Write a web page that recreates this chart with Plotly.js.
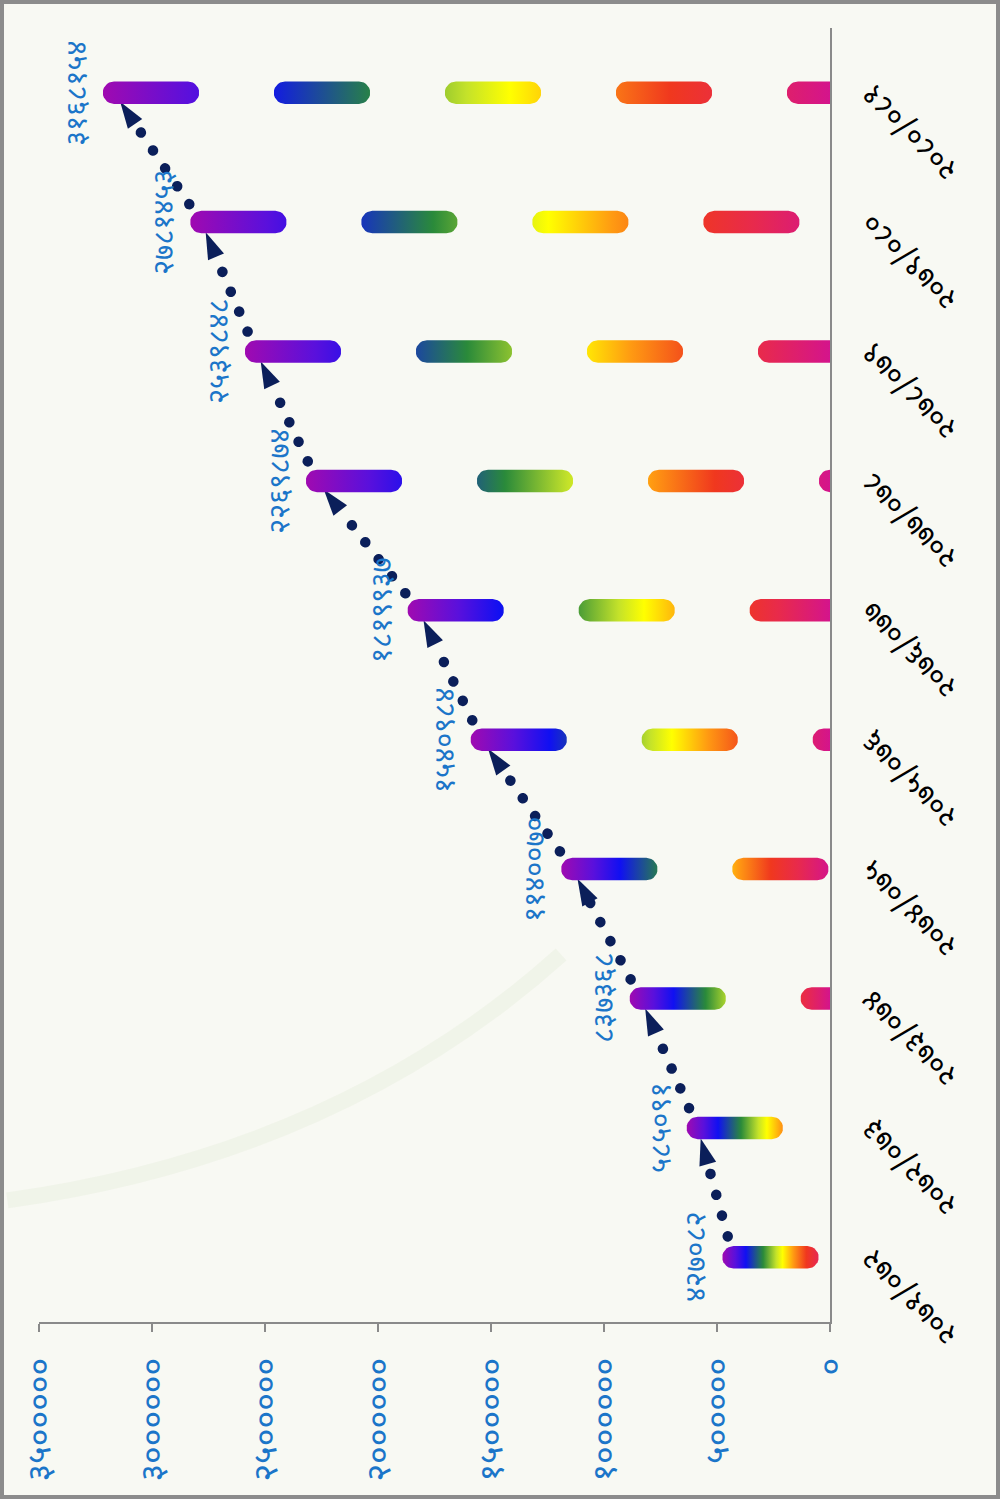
<!DOCTYPE html>
<html>
<head>
<meta charset="utf-8">
<script src="https://cdn.plot.ly/plotly-3.0.1.min.js"></script>
<style>
html,body{margin:0;padding:0;width:1000px;height:1499px;overflow:hidden;background:#f8f9f3;}
#wrap{position:absolute;left:0;top:0;width:1499px;height:1000px;transform-origin:0 0;transform:translate(0px,1499px) rotate(-90deg);}
#chart{width:1499px;height:1000px;}
#frame{position:absolute;left:0;top:0;width:1000px;height:1499px;box-sizing:border-box;border:4px solid #8c8c8c;pointer-events:none;}
.scatterlayer .js-line{stroke-linecap:round !important;}
</style>
</head>
<body>
<div id="wrap"><div id="chart"></div></div>
<div id="frame"></div>
<script>
// ---- data ----
const categories = ['२०७१/०७२','२०७२/०७३','२०७३/०७४','२०७४/०७५','२०७५/०७६','२०७६/०७७','२०७७/०७८','२०७८/०७९','२०७९/०८०','२०८०/०८१'];
const values = [427082, 585091, 837368, 1140070, 1540984, 1819937, 2269874, 2539848, 2781453, 3168154];
const valueLabels = ['४२७०८२','५८५०९१','८३७३६८','११४००७०','१५४०९८४','१८१९९३७','२२६९८७४','२५३९८४८','२७८१४५३','३१६८१५४'];
const yTickVals = [0, 500000, 1000000, 1500000, 2000000, 2500000, 3000000, 3500000];
const yTickText = ['०','५०००००','१००००००','१५०००००','२००००००','२५०००००','३००००००','३५०००००'];

// ---- layout geometry ----
const W = 1499, H = 1000;
const M = {l:177, r:28, t:39, b:170, pad:0};
const Y_MAX = 3500000;
const plotH = H - M.t - M.b, plotW = W - M.l - M.r;
const u = Y_MAX / plotH;              // value units per pixel
const cw = plotW / categories.length; // pixels per category
const DASH = 74, PERIOD = 171, R = 11.25, STEPS = 14;

const rainbow = [
  [0.00,'#d4148c'],[0.12,'#e82a4c'],[0.22,'#f0381e'],[0.34,'#ff9a12'],
  [0.44,'#ffff00'],[0.50,'#c4e22a'],[0.62,'#2a8a3a'],[0.78,'#1010f2'],
  [0.88,'#5a10dc'],[1.00,'#a00ab0']
];
const NAVY = '#0b1f5a';
const BLUE = '#1b75c9';
const FONT = 'Noto Sans Devanagari, Noto Sans, sans-serif';

const traces = [];

// dotted connector with arrowheads (drawn first, bars on top)
traces.push({
  type:'scatter', mode:'lines+markers',
  x: categories.map((c, i) => i), y: values,
  line:{color:NAVY, width:10.5, dash:'0.1px,21.5px'},
  marker:{symbol:'arrow', size:28, angleref:'previous', standoff:11, color:NAVY},
  hoverinfo:'skip', showlegend:false
});

values.forEach((v, i) => {
  const xs = [], ys = [];
  for (let k = 0; ; k++) {
    const top = v - k * PERIOD * u;
    const bot = top - DASH * u;
    if (top + R * u <= 0) break;
    for (let s = 0; s <= STEPS; s++) {
      const a = Math.PI - Math.PI * s / STEPS;
      xs.push(i + (R / cw) * Math.cos(a));
      ys.push(top + R * u * Math.sin(a));
    }
    for (let s = 0; s <= STEPS; s++) {
      const a = -Math.PI * s / STEPS;
      xs.push(i + (R / cw) * Math.cos(a));
      ys.push(bot + R * u * Math.sin(a));
    }
    xs.push(null); ys.push(null);
  }
  traces.push({
    type:'scatter', mode:'lines', x:xs, y:ys, fill:'toself',
    line:{width:0, color:'rgba(0,0,0,0)'},
    fillgradient:{type:'vertical', start:0, stop:v + R * u, colorscale:rainbow},
    hoverinfo:'skip', showlegend:false
  });
});

const annotations = values.map((v, i) => ({
  x:i, y:v, xref:'x', yref:'y', text:valueLabels[i], showarrow:false,
  yshift:35, xanchor:'center', yanchor:'middle',
  font:{family:FONT, size:29, color:BLUE}
}));

const layout = {
  width:W, height:H, margin:M,
  paper_bgcolor:'#f8f9f3', plot_bgcolor:'rgba(0,0,0,0)',
  showlegend:false,
  xaxis:{
    range:[-0.5, categories.length - 0.5], tickvals:categories.map((c,i)=>i), ticktext:categories,
    tickangle:-45, showline:true, linecolor:'#8a8a8a', linewidth:2, ticks:'',
    showgrid:false, zeroline:false, ticklabelstandoff:10,
    tickfont:{family:FONT, size:30, color:'#000'}
  },
  yaxis:{
    range:[0, Y_MAX], tickvals:yTickVals, ticktext:yTickText,
    showline:true, linecolor:'#8a8a8a', linewidth:2,
    ticks:'outside', ticklen:8, tickwidth:2, tickcolor:'#8a8a8a',
    showgrid:false, zeroline:false, ticklabelstandoff:19,
    tickfont:{family:FONT, size:34, color:BLUE}
  },
  shapes:[{
    type:'path', xref:'paper', yref:'paper', layer:'below',
    path:'M 0.094,1.04 Q 0.13,0.62 0.284,0.34',
    line:{color:'rgba(226,234,214,0.35)', width:16}
  }],
  annotations:annotations
};

Plotly.newPlot('chart', traces, layout, {staticPlot:true, displayModeBar:false});
</script>
</body>
</html>
